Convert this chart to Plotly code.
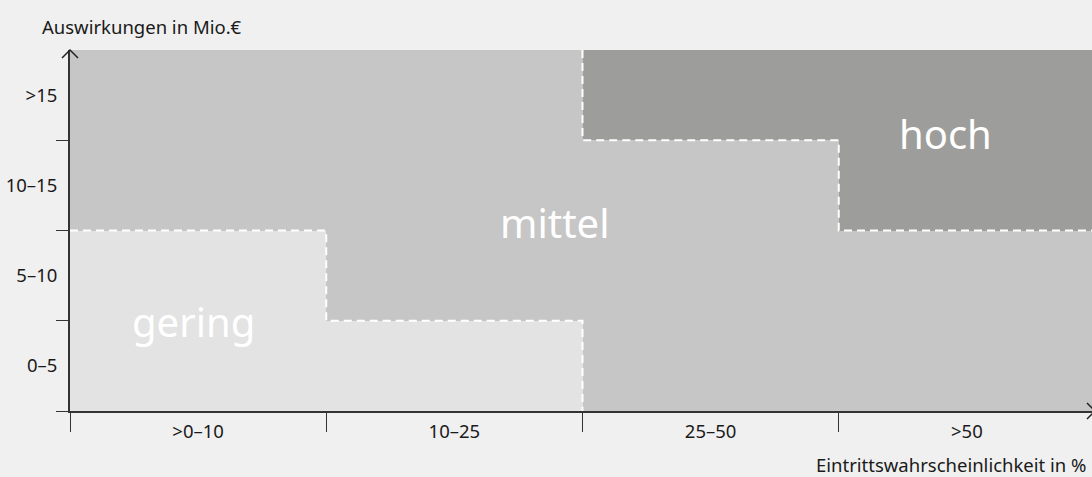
import plotly.graph_objects as go

# ---- data ----
x_labels = [">0–10", "10–25", "25–50", ">50"]          # Eintrittswahrscheinlichkeit in %
y_labels = ["0–5", "5–10", "10–15", ">15"]             # Auswirkungen in Mio.€
# risk class per cell: 0 = gering, 1 = mittel, 2 = hoch (rows = y categories, cols = x categories)
zones = [
    [0, 0, 1, 1],
    [0, 1, 1, 1],
    [1, 1, 1, 2],
    [1, 1, 2, 2],
]
zone_names = ["gering", "mittel", "hoch"]
zone_label_x = [-0.02, 1.39, 2.915]
zone_label_y = [0.49, 1.59, 2.57]

# ---- styles ----
BG = "#f0f0f0"
zone_colors = ["#e3e3e3", "#c6c6c6", "#9d9d9b"]
AX = "#333333"
FONT = "Noto Sans"
TXT = "#1a1a1a"

nx, ny = len(x_labels), len(y_labels)
xs = list(range(nx))
ys = list(range(ny))

fig = go.Figure()
fig.add_trace(go.Heatmap(
    x=xs, y=ys, z=zones, zmin=0, zmax=2,
    colorscale=[[0, zone_colors[0]], [0.5, zone_colors[1]], [1, zone_colors[2]]],
    showscale=False, hoverinfo="skip",
))

# boundaries between zones, derived from the zone matrix
segs = []
for j in range(ny):
    for i in range(nx):
        if i + 1 < nx and zones[j][i] != zones[j][i + 1]:
            segs.append(((i + 0.5, j - 0.5), (i + 0.5, j + 0.5)))
        if j + 1 < ny and zones[j][i] != zones[j + 1][i]:
            segs.append(((i - 0.5, j + 0.5), (i + 0.5, j + 0.5)))
adj = {}
for a, b in segs:
    adj.setdefault(a, []).append(b)
    adj.setdefault(b, []).append(a)
used = set()
chains = []
starts = sorted([p for p in adj if len(adj[p]) == 1], key=lambda p: (p[0], -p[1]))
for s in starts:
    if s in used:
        continue
    chain = [s]
    used.add(s)
    cur = s
    while True:
        nxt = [q for q in adj[cur] if q not in used]
        if not nxt:
            break
        cur = nxt[0]
        used.add(cur)
        chain.append(cur)
    chains.append(chain)

for ch in chains:
    fig.add_trace(go.Scatter(
        x=[p[0] for p in ch], y=[p[1] for p in ch], mode="lines",
        line=dict(color="white", width=2, dash="8px,5px"),
        hoverinfo="skip", showlegend=False,
    ))

for name, lx, ly in zip(zone_names, zone_label_x, zone_label_y):
    fig.add_annotation(x=lx, y=ly, xref="x", yref="y", text=name, showarrow=False,
                       font=dict(family=FONT, size=40, color="white"),
                       xanchor="center", yanchor="middle")

# axis titles
fig.add_annotation(x=-0.0294, y=1.066, xref="paper", yref="paper", text="Auswirkungen in Mio.€",
                   showarrow=False, xanchor="left", yanchor="middle",
                   font=dict(family=FONT, size=18.5, color=TXT))
fig.add_annotation(x=0.9961, y=-0.149, xref="paper", yref="paper", text="Eintrittswahrscheinlichkeit in %",
                   showarrow=False, xanchor="right", yanchor="middle",
                   font=dict(family=FONT, size=18.5, color=TXT))

# axis arrows
fig.add_shape(type="path", xref="paper", yref="paper", xsizemode="pixel", ysizemode="pixel",
              xanchor=0, yanchor=1, path="M-8,-8 L0,0 L8,-8",
              line=dict(color="#222222", width=1.5))
fig.add_shape(type="path", xref="paper", yref="paper", xsizemode="pixel", ysizemode="pixel",
              xanchor=1, yanchor=0, path="M-5,8 L3,0 L-5,-8",
              line=dict(color="#222222", width=1.5))

x_range = [-0.5, -0.5 + nx * 1022 / 1025]
fig.update_xaxes(
    range=x_range, tickmode="array", tickvals=xs, ticktext=x_labels, ticks="",
    minor=dict(tickmode="array", tickvals=[i - 0.5 for i in xs], ticks="outside",
               ticklen=19, tickwidth=1, tickcolor=AX),
    showline=True, linecolor=AX, linewidth=2, showgrid=False, zeroline=False,
    tickfont=dict(family=FONT, size=18.5, color=TXT), ticklabelstandoff=3,
)
fig.update_yaxes(
    range=[-0.5, ny - 0.5], tickmode="array", tickvals=ys, ticktext=y_labels, ticks="",
    minor=dict(tickmode="array", tickvals=[j - 0.5 for j in ys], ticks="outside",
               ticklen=12, tickwidth=1, tickcolor=AX),
    showline=True, linecolor=AX, linewidth=2, showgrid=False, zeroline=False,
    tickfont=dict(family=FONT, size=18.5, color=TXT), ticklabelstandoff=7,
)
fig.update_layout(
    width=1092, height=477,
    margin=dict(l=70, r=0, t=50, b=66, pad=0),
    paper_bgcolor=BG, plot_bgcolor=BG,
    showlegend=False,
)
fig.write_html("out.html", config={"displayModeBar": False},
               post_script="document.body.style.margin='0';document.body.style.overflow='hidden';")
